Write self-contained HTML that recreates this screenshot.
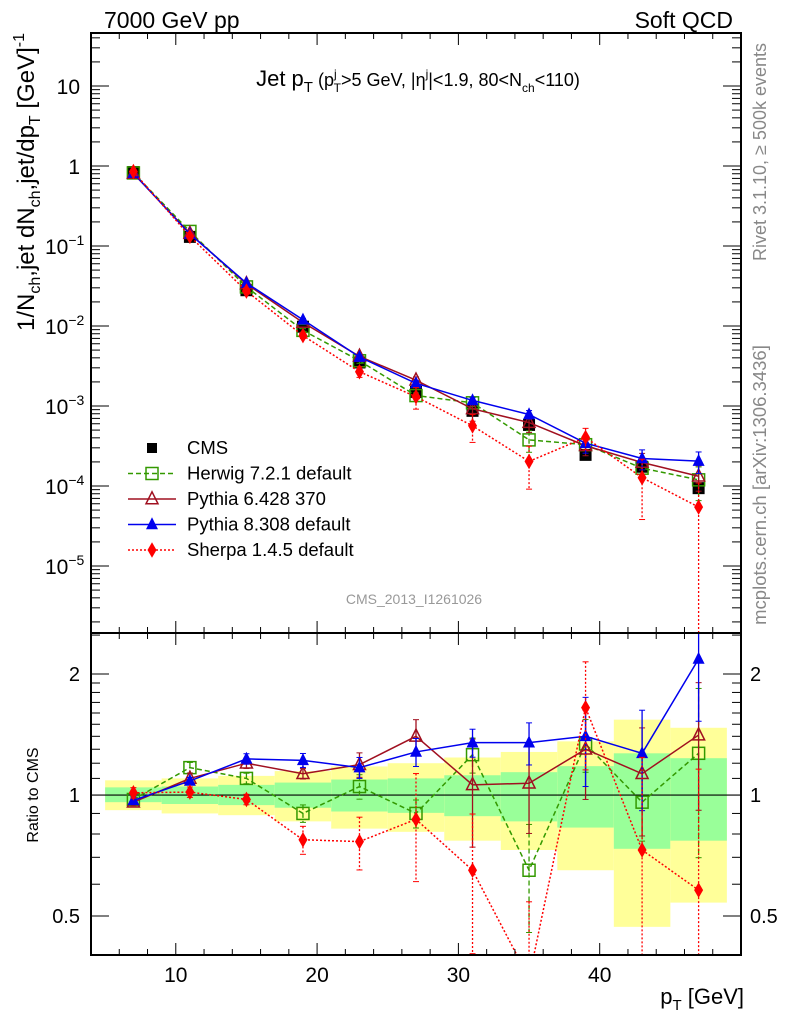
<!DOCTYPE html>
<html><head><meta charset="utf-8"><style>
html,body{margin:0;padding:0;background:#fff;overflow:hidden;width:786px;height:1024px}
svg{display:block;font-family:"Liberation Sans",sans-serif}
</style></head><body>
<svg id="chart" width="786" height="1024" viewBox="0 0 786 1024" xmlns="http://www.w3.org/2000/svg">
<defs>
<clipPath id="clipMain"><rect x="91" y="33" width="650" height="600"/></clipPath>
<clipPath id="clipRatio"><rect x="91" y="633" width="650" height="322"/></clipPath>
</defs>
<g id="bands" clip-path="url(#clipRatio)"></g>
<g id="mainMarks" clip-path="url(#clipMain)"></g>
<g id="ratioMarks" clip-path="url(#clipRatio)"></g>
<g id="axes"></g>
<text x="104" y="28" font-size="23">7000 GeV pp</text>
<text x="733" y="28" font-size="23" text-anchor="end">Soft QCD</text>
<text x="418" y="86" font-size="22" text-anchor="middle">Jet p<tspan font-size="15" dy="6">T</tspan><tspan font-size="18" dy="-6"> (p</tspan><tspan font-size="12" dy="-8">j</tspan><tspan font-size="12" dx="-3" dy="14">T</tspan><tspan font-size="18" dy="-6">&gt;5 GeV, |η</tspan><tspan font-size="12" dy="-8">j</tspan><tspan font-size="18" dy="8">|&lt;1.9, 80&lt;N</tspan><tspan font-size="12" dy="6">ch</tspan><tspan font-size="18" dy="-6">&lt;110)</tspan></text>
<text transform="translate(34,182) rotate(-90)" font-size="24" text-anchor="middle">1/N<tspan font-size="16" dy="6">ch</tspan><tspan dy="-6">,jet dN</tspan><tspan font-size="16" dy="6">ch</tspan><tspan dy="-6">,jet/dp</tspan><tspan font-size="16" dy="6">T</tspan><tspan dy="-6">  [GeV]</tspan><tspan font-size="16" dy="-10">-1</tspan></text>
<text transform="translate(38,795) rotate(-90)" font-size="16" text-anchor="middle">Ratio to CMS</text>
<text x="744" y="1004" font-size="22" text-anchor="end">p<tspan font-size="15" dy="6">T</tspan><tspan dy="-6"> [GeV]</tspan></text>
<text transform="translate(766,152) rotate(-90)" font-size="18" fill="#888" text-anchor="middle">Rivet 3.1.10, ≥ 500k events</text>
<text transform="translate(766,485) rotate(-90)" font-size="18.5" fill="#888" text-anchor="middle">mcplots.cern.ch [arXiv:1306.3436]</text>
<text x="414" y="604" font-size="14" fill="#999" text-anchor="middle">CMS_2013_I1261026</text>
<g id="legend"></g>
</svg>
<script>
const ptCenters = [7,11,15,19,23,27,31,35,39,43,47];
const binEdges = [5,9,13,17,21,25,29,33,37,41,45,49];
const cmsValues = [0.84,0.13,0.028,0.0098,0.0035,0.0015,0.00087,0.00058,0.000245,0.000174,0.000094];
const bandYellowHi = [1.088,1.10,1.116,1.147,1.178,1.20,1.24,1.28,1.36,1.54,1.47];
const bandYellowLo = [0.917,0.90,0.891,0.86,0.825,0.81,0.77,0.73,0.65,0.47,0.54];
const bandGreenHi = [1.045,1.05,1.06,1.074,1.093,1.10,1.12,1.14,1.18,1.27,1.235];
const bandGreenLo = [0.96,0.95,0.944,0.93,0.91,0.903,0.886,0.86,0.83,0.735,0.77];
const herwigRatio = [0.975,1.17,1.10,0.90,1.05,0.90,1.26,0.65,1.34,0.96,1.27];
const pythia6Ratio = [0.96,1.10,1.20,1.13,1.19,1.40,1.06,1.07,1.30,1.13,1.41];
const pythia8Ratio = [0.97,1.084,1.23,1.22,1.17,1.28,1.35,1.35,1.40,1.27,2.18];
const sherpaRatio = [1.013,1.017,0.975,0.774,0.766,0.87,0.65,0.35,1.65,0.73,0.58];
const herwigRelErr = [0.02,0.03,0.03,0.05,0.07,0.08,0.1,0.3,0.15,0.2,0.45];
const pythia6RelErr = [0.02,0.03,0.03,0.03,0.07,0.1,0.3,0.25,0.25,0.3,0.35];
const pythia8RelErr = [0.02,0.02,0.03,0.04,0.06,0.08,0.08,0.12,0.25,0.28,0.3];
const sherpaRelErr = [0.03,0.03,0.03,0.08,0.15,0.3,0.38,0.55,0.3,0.7,1.0];
const xTickLabels = [10,20,30,40];
const ratioTickLabels = [0.5,1,2];
const mainDecades = [-5,-4,-3,-2,-1,0,1];

const NS="http://www.w3.org/2000/svg";
const X0=91,X1=741,XMIN=4,XMAX=50;
const MY0=33,MY1=633,MLOGMAX=1+53/80,MLOGMIN=-5-67/80;
const RY0=633,RY1=955,RLOGMAX=Math.log10(2.53),RLOGMIN=Math.log10(0.4);
const xS=v=>X0+(v-XMIN)/(XMAX-XMIN)*(X1-X0);
const yM=v=>MY0+(MLOGMAX-Math.log10(Math.max(v,1e-9)))/(MLOGMAX-MLOGMIN)*(MY1-MY0);
const yR=v=>RY0+(RLOGMAX-Math.log10(Math.max(v,1e-9)))/(RLOGMAX-RLOGMIN)*(RY1-RY0);
function mk(tag,attrs,parent){const e=document.createElementNS(NS,tag);for(const k in attrs)e.setAttribute(k,attrs[k]);parent.appendChild(e);return e;}
const $=id=>document.getElementById(id);

const bands=$('bands');
for(let i=0;i<ptCenters.length;i++){
  const x=xS(binEdges[i]),w=xS(binEdges[i+1])-x;
  const yb=mk('rect',{x:x,y:yR(bandYellowHi[i]),width:w,height:yR(bandYellowLo[i])-yR(bandYellowHi[i]),fill:'#ffff99'},bands);
  
  
  const gb=mk('rect',{x:x,y:yR(bandGreenHi[i]),width:w,height:yR(bandGreenLo[i])-yR(bandGreenHi[i]),fill:'#99ff99'},bands);
  
  
}
const unity=mk('line',{x1:X0,x2:X1,y1:yR(1),y2:yR(1),stroke:'#000','stroke-width':1.2},$('ratioMarks'));



function marker(type,x,y,color,parent,s){
  let e;
  if(type==='sq') e=mk('rect',{x:x-s,y:y-s,width:2*s,height:2*s,fill:'#000'},parent);
  else if(type==='osq') e=mk('rect',{x:x-s,y:y-s,width:2*s,height:2*s,fill:'none',stroke:color,'stroke-width':1.5},parent);
  else if(type==='otri') e=mk('polygon',{points:`${x},${y-s*1.2} ${x-s},${y+s*0.8} ${x+s},${y+s*0.8}`,fill:'none',stroke:color,'stroke-width':1.5},parent);
  else if(type==='tri') e=mk('polygon',{points:`${x},${y-s*1.2} ${x-s},${y+s*0.8} ${x+s},${y+s*0.8}`,fill:color},parent);
  else e=mk('polygon',{points:`${x},${y-s*1.3} ${x-s*0.75},${y} ${x},${y+s*1.3} ${x+s*0.75},${y}`,fill:color},parent);
  return e;
}

const series=[
 {name:'herwig',ratio:herwigRatio,err:herwigRelErr,color:'#339900',dash:'5,3',m:'osq',label:'Herwig 7.2.1 default'},
 {name:'pythia6',ratio:pythia6Ratio,err:pythia6RelErr,color:'#a01020',dash:'',m:'otri',label:'Pythia 6.428 370'},
 {name:'pythia8',ratio:pythia8Ratio,err:pythia8RelErr,color:'#0000ee',dash:'',m:'tri',label:'Pythia 8.308 default'},
 {name:'sherpa',ratio:sherpaRatio,err:sherpaRelErr,color:'#ff0000',dash:'2,2',m:'dia',label:'Sherpa 1.4.5 default'}
];

const mm=$('mainMarks'),rm=$('ratioMarks');
for(let i=0;i<ptCenters.length;i++){
  const c=marker('sq',xS(ptCenters[i]),yM(cmsValues[i]),'#000',mm,6);
  
  
}
series.forEach(s=>{
  const vals=cmsValues.map((v,i)=>v*s.ratio[i]);
  [[mm,yM,vals],[rm,yR,s.ratio]].forEach(([g,yf,arr])=>{
    const pts=arr.map((v,i)=>xS(ptCenters[i])+','+yf(v)).join(' ');
    const pl=mk('polyline',{points:pts,fill:'none',stroke:s.color,'stroke-width':1.5,'stroke-dasharray':s.dash},g);
    
    
    arr.forEach((v,i)=>{
      const x=xS(ptCenters[i]);
      const lo=Math.max(v*(1-s.err[i]),1e-9),hi=v*(1+s.err[i]);
      const eb=mk('line',{x1:x,x2:x,y1:yf(hi),y2:yf(lo),stroke:s.color,'stroke-width':1.3,'stroke-dasharray':s.dash},g);
      
      
      mk('line',{x1:x-3,x2:x+3,y1:yf(hi),y2:yf(hi),stroke:s.color,'stroke-width':1},g);
      mk('line',{x1:x-3,x2:x+3,y1:yf(lo),y2:yf(lo),stroke:s.color,'stroke-width':1},g);
      const mkk=marker(s.m,x,yf(v),s.color,g,6);
      
      
    });
  });
});

const ax=$('axes');
function ln(x1,y1,x2,y2,w){mk('line',{x1,y1,x2,y2,stroke:'#000','stroke-width':w||1},ax);}
mk('rect',{x:X0,y:MY0,width:X1-X0,height:RY1-MY0,fill:'none',stroke:'#000','stroke-width':2},ax);
ln(X0,RY0,X1,RY0,2);
for(let v=6;v<=XMAX;v+=2){
  const x=xS(v),maj=v%10===0,L=maj?12:6;
  ln(x,MY0,x,MY0+L);ln(x,RY0,x,RY0-L);ln(x,RY0,x,RY0+L);ln(x,RY1,x,RY1-L);
}
xTickLabels.forEach(v=>{
  const t=mk('text',{x:xS(v),y:982,'font-size':21,'text-anchor':'middle'},ax);t.textContent=v;
  
  
});
for(let d=-6;d<=1;d++){
  for(let m=1;m<=9;m++){
    const v=m*Math.pow(10,d),y=yM(v);
    if(y<MY0||y>MY1)continue;
    const L=m===1?18:9;
    ln(X0,y,X0+L,y);ln(X1,y,X1-L,y);
  }
}
mainDecades.forEach(d=>{
  const y=yM(Math.pow(10,d))+8;
  const t=mk('text',{x:80,y:y,'font-size':21,'text-anchor':'end'},ax);
  if(d===0)t.textContent='1';else if(d===1)t.textContent='10';
  else{t.setAttribute('x',45);t.setAttribute('text-anchor','start');t.textContent='10';const sp=mk('tspan',{'font-size':14,dy:-9},t);sp.textContent='−'+(-d);}
  
  
});
[0.4,0.5,0.6,0.7,0.8,0.9,1,1.1,1.2,1.3,1.4,1.5,1.6,1.7,1.8,1.9,2,2.5].forEach(v=>{
  const y=yR(v);if(y<RY0||y>RY1)return;
  const L=(v===0.5||v===1||v===2)?18:9;
  ln(X0,y,X0+L,y);ln(X1,y,X1-L,y);
});
ratioTickLabels.forEach(v=>{
  const y=yR(v)+7;
  const t=mk('text',{x:80,y:y,'font-size':20,'text-anchor':'end'},ax);t.textContent=v;
  
  
  const t2=mk('text',{x:750,y:y,'font-size':20},ax);t2.textContent=v;
  
  
});

const lg=$('legend');
const rows=[{m:'sq',color:'#000',dash:null,label:'CMS'}].concat(series);
rows.forEach((r,i)=>{
  const y=448+i*25.5;
  const g=mk('g',{},lg);
  
  
  if(r.dash!==null) mk('line',{x1:128,x2:176,y1:y,y2:y,stroke:r.color,'stroke-width':1.5,'stroke-dasharray':r.dash},g);
  marker(r.m,152,y,r.color,g,r.m==='sq'?5:6);
  const t=mk('text',{x:187,y:y+6,'font-size':18.5},g);t.textContent=r.label;
});
</script>
</body></html>
